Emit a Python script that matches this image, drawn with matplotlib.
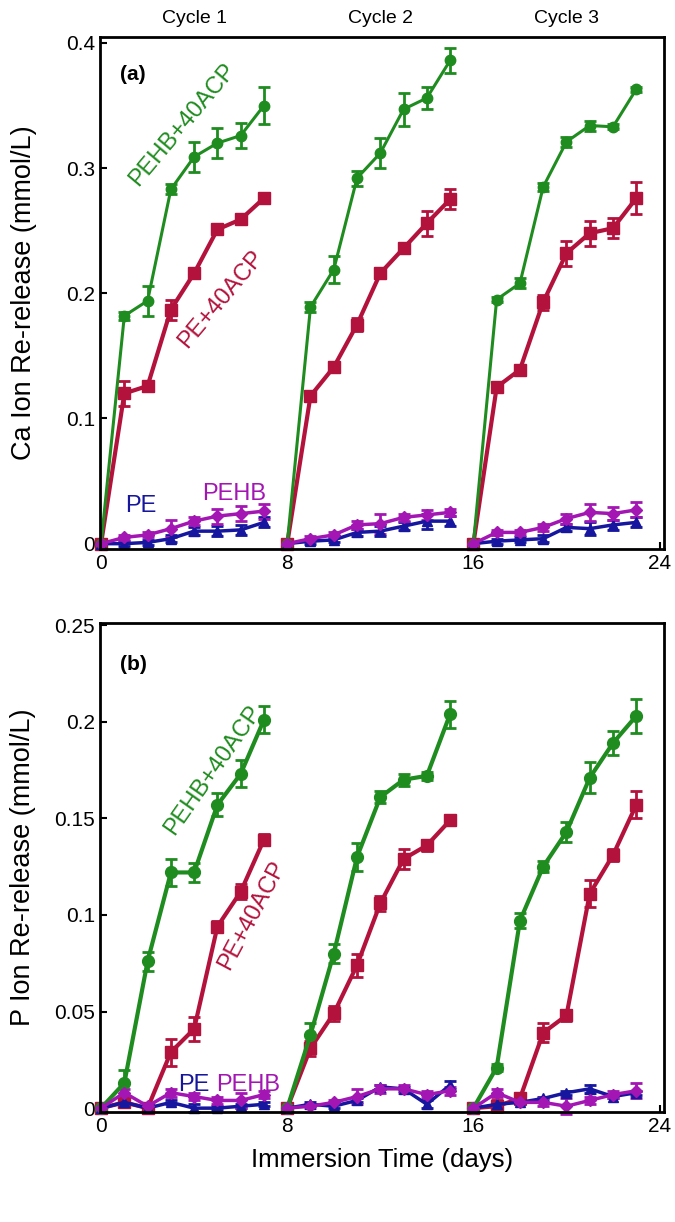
import matplotlib.pyplot as plt

plt.rcParams['font.family'] = ['Liberation Sans', 'DejaVu Sans']

# immersion days, three cycles of 8 days
cycles = [list(range(0, 8)), list(range(8, 16)), list(range(16, 24))]
x_ticks = [0, 8, 16, 24]
cycle_names = ["Cycle 1", "Cycle 2", "Cycle 3"]
cycle_centers = [4, 12, 20]

# (a) Ca ion re-release (mmol/L)
ca_pehb_acp = [0, 0.182, 0.194, 0.283, 0.309, 0.320, 0.326, 0.350,
               0, 0.189, 0.219, 0.292, 0.312, 0.347, 0.356, 0.386,
               0, 0.195, 0.208, 0.285, 0.321, 0.334, 0.333, 0.363]
ca_pehb_acp_err = [0, 0.003, 0.012, 0.004, 0.012, 0.012, 0.010, 0.015,
                   0, 0.004, 0.011, 0.006, 0.012, 0.013, 0.009, 0.010,
                   0, 0.002, 0.004, 0.003, 0.004, 0.004, 0.002, 0.002]
ca_pe_acp = [0, 0.120, 0.126, 0.187, 0.216, 0.251, 0.259, 0.276,
             0, 0.118, 0.141, 0.175, 0.216, 0.236, 0.256, 0.275,
             0, 0.125, 0.139, 0.193, 0.232, 0.248, 0.252, 0.276]
ca_pe_acp_err = [0, 0.010, 0.004, 0.008, 0.004, 0.003, 0.003, 0.004,
                 0, 0.003, 0.004, 0.005, 0.004, 0.003, 0.010, 0.008,
                 0, 0.003, 0.003, 0.006, 0.010, 0.010, 0.008, 0.013]
ca_pehb = [0, 0.005, 0.007, 0.012, 0.018, 0.022, 0.024, 0.026,
           0, 0.004, 0.007, 0.015, 0.016, 0.021, 0.023, 0.025,
           0, 0.009, 0.009, 0.013, 0.020, 0.025, 0.024, 0.027]
ca_pehb_err = [0, 0.002, 0.002, 0.007, 0.003, 0.006, 0.006, 0.006,
               0, 0.002, 0.002, 0.003, 0.008, 0.003, 0.004, 0.003,
               0, 0.002, 0.002, 0.003, 0.004, 0.007, 0.005, 0.006]
ca_pe = [0, 0.000, 0.001, 0.004, 0.010, 0.010, 0.011, 0.017,
         0, 0.002, 0.003, 0.009, 0.010, 0.014, 0.018, 0.018,
         0, 0.002, 0.003, 0.004, 0.013, 0.012, 0.015, 0.017]
ca_pe_err = [0, 0.002, 0.002, 0.003, 0.003, 0.004, 0.004, 0.004,
             0, 0.002, 0.002, 0.003, 0.004, 0.003, 0.006, 0.004,
             0, 0.002, 0.002, 0.003, 0.003, 0.005, 0.004, 0.004]

# (b) P ion re-release (mmol/L)
p_pehb_acp = [0, 0.013, 0.076, 0.122, 0.122, 0.157, 0.173, 0.201,
              0, 0.038, 0.080, 0.130, 0.161, 0.170, 0.172, 0.204,
              0, 0.021, 0.097, 0.125, 0.143, 0.171, 0.189, 0.203]
p_pehb_acp_err = [0, 0.007, 0.005, 0.007, 0.005, 0.006, 0.007, 0.007,
                  0, 0.006, 0.005, 0.007, 0.003, 0.003, 0.002, 0.007,
                  0, 0.002, 0.004, 0.003, 0.005, 0.008, 0.006, 0.009]
p_pe_acp = [0, 0.003, 0.000, 0.029, 0.041, 0.094, 0.112, 0.139,
            0, 0.031, 0.049, 0.074, 0.106, 0.129, 0.136, 0.149,
            0, 0.001, 0.005, 0.039, 0.048, 0.111, 0.131, 0.157]
p_pe_acp_err = [0, 0.002, 0.001, 0.007, 0.006, 0.003, 0.004, 0.003,
                0, 0.004, 0.004, 0.006, 0.004, 0.005, 0.003, 0.002,
                0, 0.003, 0.003, 0.005, 0.003, 0.007, 0.003, 0.007]
p_pehb = [0, 0.008, 0.001, 0.008, 0.006, 0.004, 0.004, 0.007,
          0, 0.001, 0.003, 0.006, 0.010, 0.010, 0.007, 0.009,
          0, 0.008, 0.003, 0.003, 0.001, 0.004, 0.007, 0.009]
p_pehb_err = [0, 0.002, 0.001, 0.002, 0.002, 0.002, 0.004, 0.002,
              0, 0.001, 0.001, 0.004, 0.002, 0.002, 0.002, 0.002,
              0, 0.002, 0.001, 0.002, 0.004, 0.002, 0.002, 0.004]
p_pe = [0, 0.003, 0.000, 0.003, 0.000, 0.000, 0.001, 0.002,
        0, 0.002, 0.001, 0.004, 0.011, 0.010, 0.002, 0.012,
        0, 0.002, 0.003, 0.005, 0.008, 0.010, 0.006, 0.008]
p_pe_err = [0, 0.001, 0.001, 0.001, 0.002, 0.001, 0.001, 0.001,
            0, 0.001, 0.001, 0.001, 0.001, 0.001, 0.002, 0.002,
            0, 0.001, 0.001, 0.001, 0.001, 0.002, 0.001, 0.001]

ca_yticks = [0, 0.1, 0.2, 0.3, 0.4]
ca_yticklabels = ["0", "0.1", "0.2", "0.3", "0.4"]
p_yticks = [0, 0.05, 0.1, 0.15, 0.2, 0.25]
p_yticklabels = ["0", "0.05", "0.1", "0.15", "0.2", "0.25"]

GREEN = "#1f8c1f"
RED = "#b3123c"
BLUE = "#16169e"
PURPLE = "#a316b3"


def draw_series(ax, y, err, color, marker, ms, lw):
    for days in cycles:
        vals = [y[d] for d in days]
        errs = [err[d] for d in days]
        ax.errorbar(days, vals, yerr=errs, color=color, marker=marker,
                    markersize=ms, linewidth=lw, elinewidth=2,
                    capsize=4, capthick=2, clip_on=False)


def style_axes(ax, yticks, yticklabels, ylim):
    ax.set_xlim(-0.05, 24.2)
    ax.set_ylim(*ylim)
    ax.set_xticks(x_ticks)
    ax.set_xticklabels([str(t) for t in x_ticks])
    ax.set_yticks(yticks)
    ax.set_yticklabels(yticklabels)
    ax.tick_params(direction="in", length=5, width=1.5, labelsize=15,
                   top=False, right=False)
    for sp in ax.spines.values():
        sp.set_linewidth(2)


fig = plt.figure(figsize=(6.75, 12.22), dpi=100)

# ---- panel (a)
ax1 = fig.add_axes([0.148, 0.551, 0.836, 0.419])
draw_series(ax1, ca_pe_acp, ca_pe_acp_err, RED, "s", 8.5, 3.0)
draw_series(ax1, ca_pehb_acp, ca_pehb_acp_err, GREEN, "o", 7.5, 2.2)
draw_series(ax1, ca_pe, ca_pe_err, BLUE, "^", 7, 2.5)
draw_series(ax1, ca_pehb, ca_pehb_err, PURPLE, "D", 6.5, 2.5)
style_axes(ax1, ca_yticks, ca_yticklabels, (-0.004, 0.405))
ax1.set_ylabel("Ca Ion Re-release (mmol/L)", fontsize=19.5, labelpad=21)

for name, cx in zip(cycle_names, cycle_centers):
    ax1.text(cx, 1.018, name, transform=ax1.get_xaxis_transform(),
             ha="center", va="bottom", fontsize=14)

ax1.text(0.035, 0.915, "(a)", transform=ax1.transAxes, fontsize=15,
         fontweight="bold")
ax1.text(3.5, 0.335, "PEHB+40ACP", color=GREEN, fontsize=17, rotation=50,
         ha="center", va="center")
ax1.text(5.15, 0.195, "PE+40ACP", color=RED, fontsize=17, rotation=50,
         ha="center", va="center")
ax1.text(1.7, 0.03, "PE", color=BLUE, fontsize=17, ha="center", va="center")
ax1.text(5.7, 0.04, "PEHB", color=PURPLE, fontsize=17, ha="center",
         va="center")

# ---- panel (b)
ax2 = fig.add_axes([0.148, 0.090, 0.836, 0.400])
draw_series(ax2, p_pe_acp, p_pe_acp_err, RED, "s", 8.5, 3.0)
draw_series(ax2, p_pehb_acp, p_pehb_acp_err, GREEN, "o", 8.5, 3.0)
draw_series(ax2, p_pe, p_pe_err, BLUE, "^", 7, 2.5)
draw_series(ax2, p_pehb, p_pehb_err, PURPLE, "D", 6.5, 2.5)
style_axes(ax2, p_yticks, p_yticklabels, (-0.002, 0.251))
ax2.set_ylabel("P Ion Re-release (mmol/L)", fontsize=19.5, labelpad=13)
ax2.set_xlabel("Immersion Time (days)", fontsize=18.5, labelpad=9)

ax2.text(0.035, 0.905, "(b)", transform=ax2.transAxes, fontsize=15,
         fontweight="bold")
ax2.text(4.8, 0.175, "PEHB+40ACP", color=GREEN, fontsize=17, rotation=55,
         ha="center", va="center")
ax2.text(6.5, 0.1, "PE+40ACP", color=RED, fontsize=17, rotation=62,
         ha="center", va="center")
ax2.text(4.0, 0.012, "PE", color=BLUE, fontsize=17, ha="center",
         va="center")
ax2.text(6.3, 0.012, "PEHB", color=PURPLE, fontsize=17, ha="center",
         va="center")

fig.savefig("out.png", dpi=100)
